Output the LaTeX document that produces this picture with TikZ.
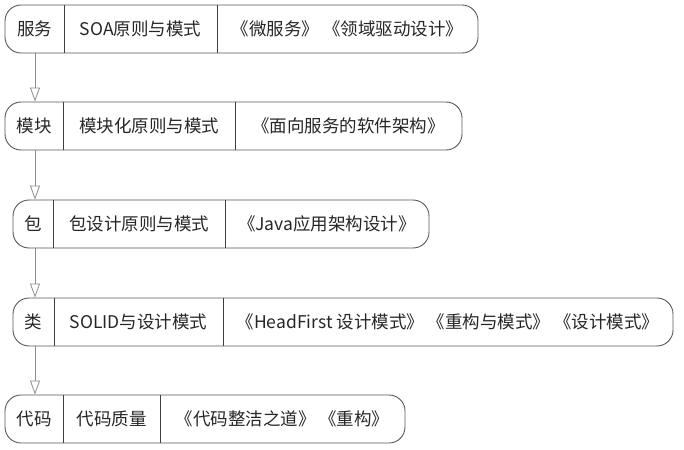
\documentclass[tikz,border=0pt]{standalone}
\usepackage{fontspec}
\newfontfamily\cjk{Noto Sans CJK SC}
\usetikzlibrary{arrows.meta,calc}
\tikzset{
  % outer pill of one layer
  layer/.style = {rectangle, rounded corners=16pt, draw=black!65, line width=0.9pt,
                  minimum height=48pt, inner sep=0pt},
  % text inside one cell
  cell/.style  = {font=\cjk\fontsize{17.5}{20}\selectfont, text=black!85, inner sep=0pt},
  % cell divider
  sep/.style   = {draw=black!75, line width=1pt},
  % arrows
  flow/.style  = {-{Triangle[length=14pt,width=10pt,fill=white]}, black!45, line width=0.8pt},
}

\begin{document}
\begin{tikzpicture}[x=1pt, y=-1pt]
  \useasboundingbox (0,0) rectangle (684,449);

  % --- service ---
  \node[layer, minimum width=473pt] (b1) at (241.5,29) {};
  \draw[sep] (b1.north -| 64,0) -- (b1.south -| 64,0);
  \draw[sep] (b1.north -| 217,0) -- (b1.south -| 217,0);
  \node[cell] (l1) at (34.5,29)  {服务};
  \node[cell] (t1) at (140.5,29) {SOA原则与模式};
  \node[cell] (k1) at (347.5,29) {《微服务》 《领域驱动设计》};

  % --- module ---
  \node[layer, minimum width=457pt] (b2) at (233.5,126) {};
  \draw[sep] (b2.north -| 63,0) -- (b2.south -| 63,0);
  \draw[sep] (b2.north -| 235,0) -- (b2.south -| 235,0);
  \node[cell] (l2) at (34,126)    {模块};
  \node[cell] (t2) at (149,126)   {模块化原则与模式};
  \node[cell] (k2) at (348.5,126) {《面向服务的软件架构》};

  % --- package ---
  \node[layer, minimum width=416pt] (b3) at (221,224) {};
  \draw[sep] (b3.north -| 53,0) -- (b3.south -| 53,0);
  \draw[sep] (b3.north -| 225,0) -- (b3.south -| 225,0);
  \node[cell] (l3) at (33,224)  {包};
  \node[cell] (t3) at (139,224) {包设计原则与模式};
  \node[cell] (k3) at (327,224) {《Java应用架构设计》};

  % --- class ---
  \node[layer, minimum width=660pt] (b4) at (343,322) {};
  \draw[sep] (b4.north -| 54,0) -- (b4.south -| 54,0);
  \draw[sep] (b4.north -| 223,0) -- (b4.south -| 223,0);
  \node[cell] (l4) at (33.5,322)  {类};
  \node[cell] (t4) at (138.5,322) {SOLID与设计模式};
  \node[cell] (k4) at (448,322)   {《HeadFirst 设计模式》 《重构与模式》 《设计模式》};

  % --- code ---
  \node[layer, minimum width=400pt] (b5) at (205,419) {};
  \draw[sep] (b5.north -| 63,0) -- (b5.south -| 63,0);
  \draw[sep] (b5.north -| 160,0) -- (b5.south -| 160,0);
  \node[cell] (l5) at (34,419)    {代码};
  \node[cell] (t5) at (111.5,419) {代码质量};
  \node[cell] (k5) at (282.5,419) {《代码整洁之道》 《重构》};

  % --- edges ---
  \coordinate (ax) at (35,0);
  \foreach \a/\b in {b1/b2, b2/b3, b3/b4, b4/b5} {
    \draw[flow] (ax |- \a.south) -- (ax |- \b.north);
  }
\end{tikzpicture}
\end{document}
